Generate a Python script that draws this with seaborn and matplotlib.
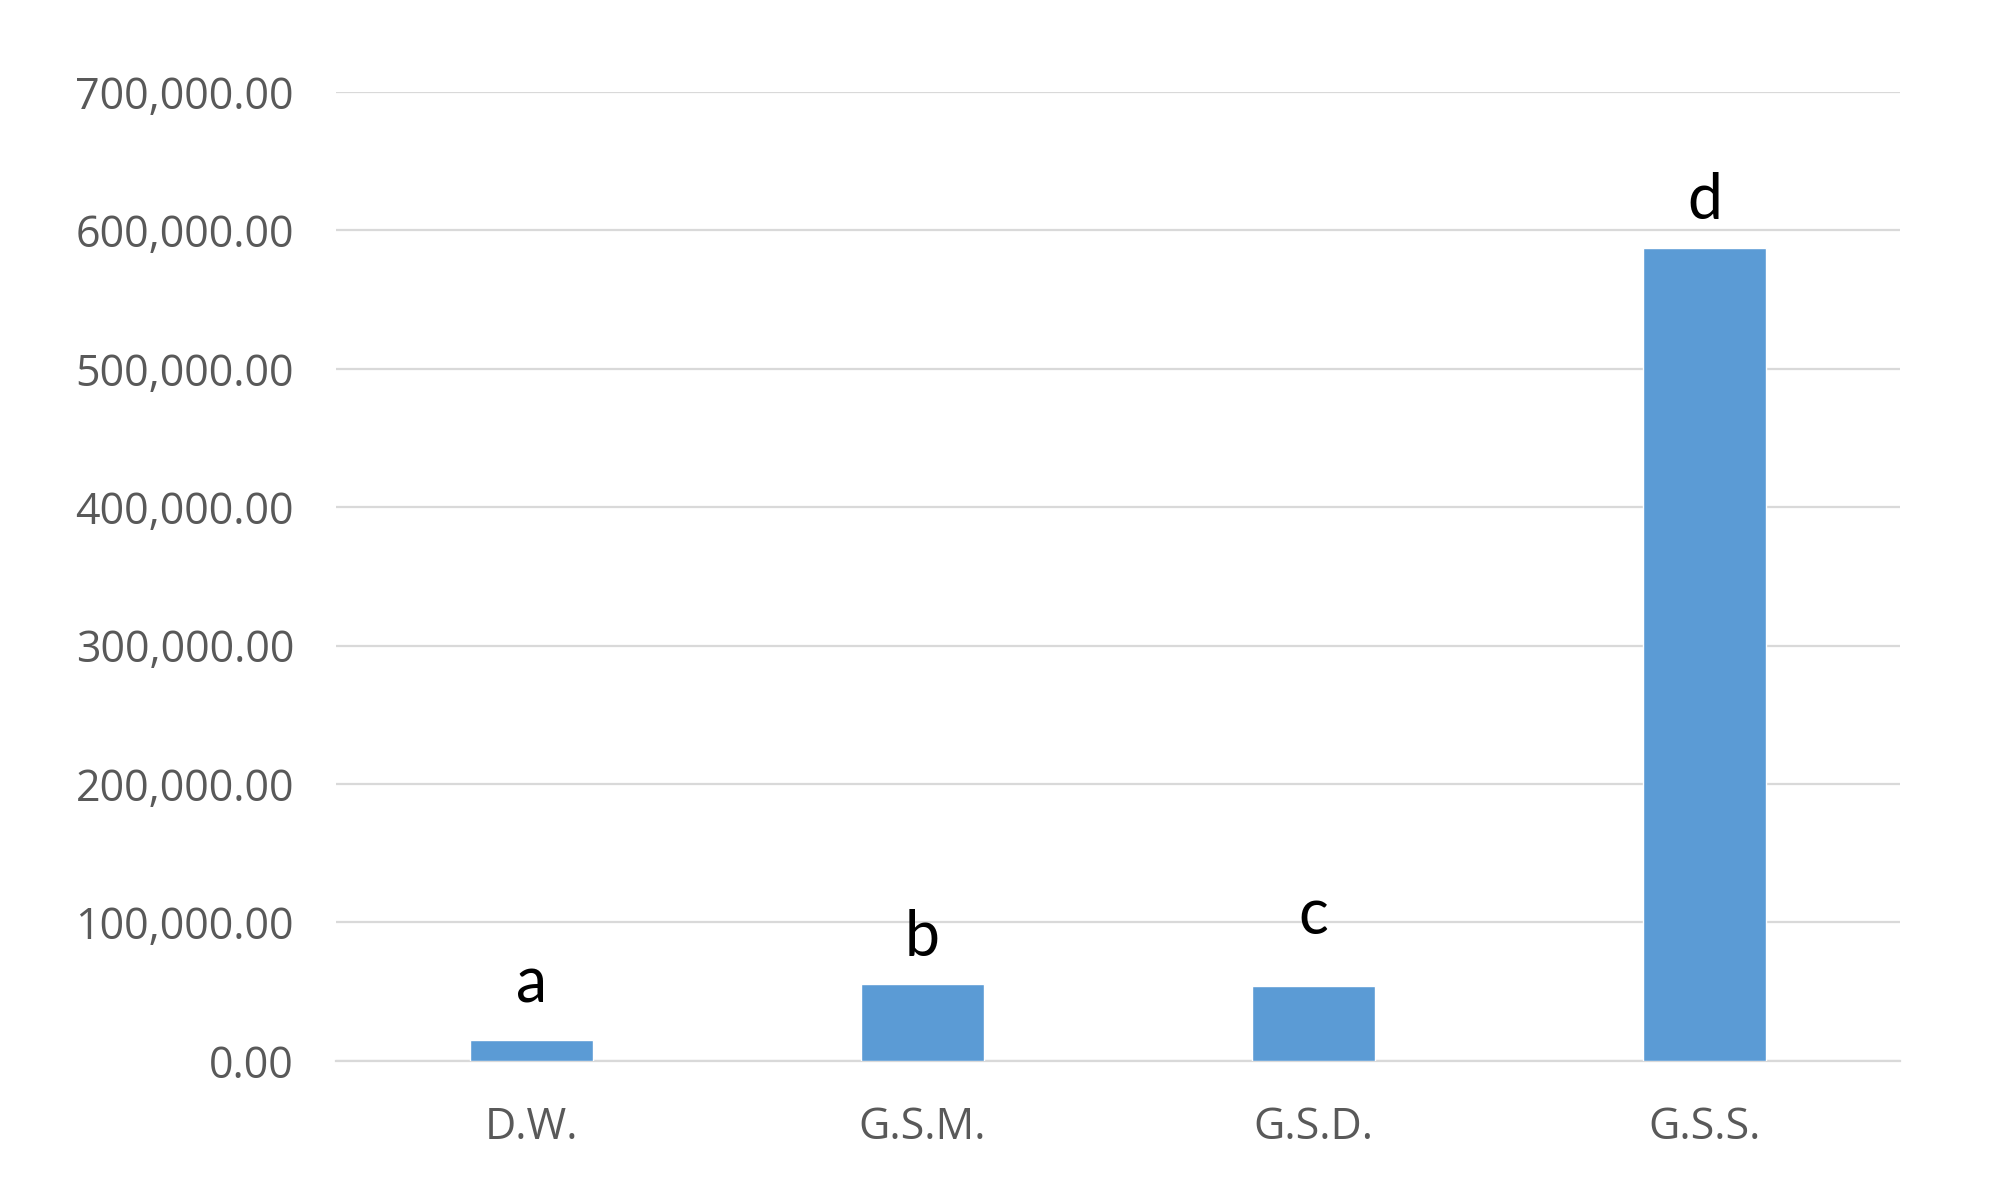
import matplotlib.pyplot as plt
import matplotlib.ticker as mticker
import pandas as pd
import seaborn as sns

categories = ["D.W.", "G.S.M.", "G.S.D.", "G.S.S."]
values = [15000, 55500, 54000, 587300]
letters = ["a", "b", "c", "d"]
letter_y = [55500, 88700, 104600, 621200]
y_ticks = [0, 100000, 200000, 300000, 400000, 500000, 600000, 700000]

sns.set_theme(style="white")
plt.rcParams["font.family"] = ["Open Sans", "DejaVu Sans"]

df = pd.DataFrame({"group": categories, "value": values})

fig = plt.figure(figsize=(19.98, 11.88), dpi=100)
ax = fig.add_axes([0.168, 0.107, 0.783, 0.8156])

sns.barplot(data=df, x="group", y="value", color="#5b9bd5", saturation=1,
            width=0.315, ax=ax, zorder=3)

# significance letters above the bars
for i, (letter, y) in enumerate(zip(letters, letter_y)):
    ax.text(i, y, letter, ha="center", va="center", fontsize=45,
            color="black", family=["Lato", "DejaVu Sans"])

ax.set_ylim(0, 700000)
ax.set_xlim(-0.5, 3.5)
ax.set_yticks(y_ticks)
ax.yaxis.set_major_formatter(mticker.FuncFormatter(lambda v, _: f"{v:,.2f}"))
ax.grid(True, axis="y", color="#d9d9d9", linewidth=1.6, zorder=0)
ax.set_axisbelow(True)
for side in ["top", "right", "left"]:
    ax.spines[side].set_visible(False)
ax.spines["bottom"].set_color("#d9d9d9")
ax.spines["bottom"].set_linewidth(1.6)
ax.tick_params(axis="y", length=0, pad=30, labelsize=31, labelcolor="#595959")
ax.tick_params(axis="x", length=0, pad=32, labelsize=31, labelcolor="#595959")
ax.set_xlabel("")
ax.set_ylabel("")

fig.savefig("out.png", dpi=100)
